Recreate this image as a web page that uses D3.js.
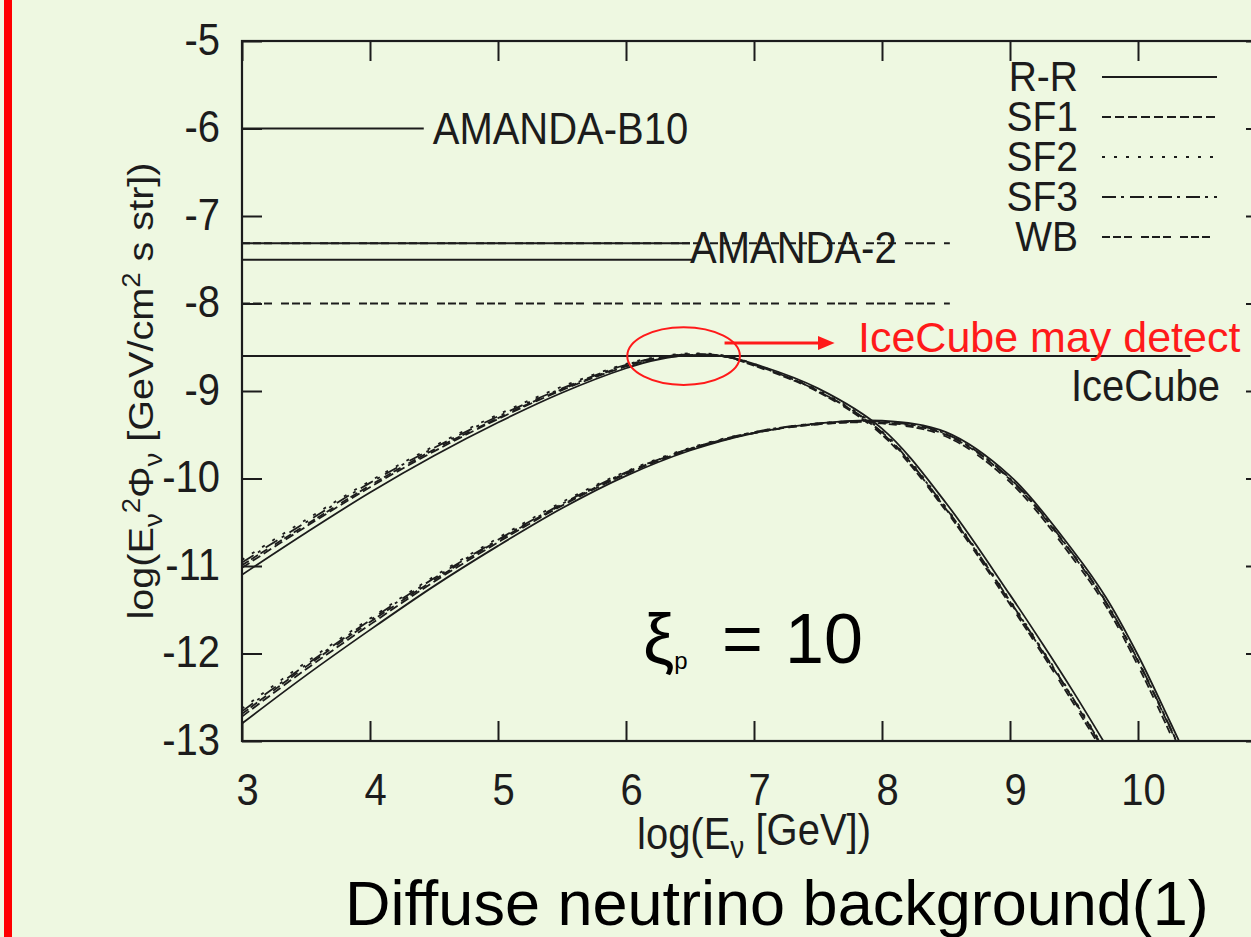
<!DOCTYPE html>
<html lang="en">
<head>
<meta charset="UTF-8">
<title>Diffuse neutrino background</title>
<script src="https://d3js.org/d3.v7.min.js"></script>
<style>
  html, body { margin: 0; padding: 0; background: #eef8e1; }
  svg { display: block; font-family: "Liberation Sans", Arial, sans-serif; }
</style>
</head>
<body>
<svg id="chart" width="1251" height="937"></svg>
<script>
// ---- data ----
const xTicks = [3, 4, 5, 6, 7, 8, 9, 10, 11];
const yTicks = [-5, -6, -7, -8, -9, -10, -11, -12, -13];
const seriesNames = ["R-R", "SF1", "SF2", "SF3", "WB"];

// upper family (peak ~6.5)
const upperX   = [3, 3.5, 4, 4.5, 5, 5.5, 6, 6.25, 6.5, 6.75, 7, 7.5, 8, 8.5, 9, 9.25, 9.5, 9.75];
const upperRR  = [-11.10, -10.62, -10.16, -9.74, -9.36, -9.02, -8.74, -8.64, -8.59, -8.60, -8.69, -8.97, -9.43, -10.28, -11.33, -11.88, -12.45, -13.05];
const upperSF1 = [-11.02, -10.55, -10.10, -9.69, -9.32, -8.99, -8.72, -8.63, -8.59, -8.60, -8.70, -9.00, -9.48, -10.35, -11.41, -11.97, -12.54, -13.15];
const upperSF2 = [-10.93, -10.47, -10.03, -9.63, -9.27, -8.95, -8.69, -8.61, -8.57, -8.59, -8.69, -8.99, -9.46, -10.33, -11.39, -11.95, -12.52, -13.12];
const upperSF3 = [-10.96, -10.50, -10.05, -9.65, -9.29, -8.97, -8.70, -8.62, -8.58, -8.60, -8.70, -9.00, -9.47, -10.34, -11.40, -11.96, -12.53, -13.13];
const upperWB  = [-10.99, -10.53, -10.08, -9.67, -9.31, -8.98, -8.71, -8.62, -8.58, -8.60, -8.71, -9.01, -9.50, -10.37, -11.44, -12.00, -12.58, -13.18];

// lower family (peak ~8)
const lowerX   = [3, 3.5, 4, 4.5, 5, 5.5, 6, 6.5, 7, 7.5, 8, 8.5, 9, 9.5, 9.75, 10, 10.25, 10.4];
const lowerRR  = [-12.80, -12.25, -11.73, -11.23, -10.77, -10.34, -9.97, -9.68, -9.48, -9.37, -9.34, -9.47, -9.97, -10.84, -11.36, -12.02, -12.78, -13.25];
const lowerSF1 = [-12.72, -12.18, -11.67, -11.18, -10.73, -10.31, -9.95, -9.67, -9.48, -9.38, -9.36, -9.50, -10.01, -10.89, -11.42, -12.09, -12.85, -13.33];
const lowerSF2 = [-12.63, -12.10, -11.60, -11.12, -10.68, -10.27, -9.92, -9.65, -9.47, -9.37, -9.35, -9.49, -10.00, -10.88, -11.41, -12.08, -12.84, -13.32];
const lowerSF3 = [-12.66, -12.13, -11.62, -11.14, -10.70, -10.29, -9.93, -9.66, -9.47, -9.37, -9.35, -9.49, -10.00, -10.88, -11.41, -12.08, -12.84, -13.32];
const lowerWB  = [-12.69, -12.15, -11.64, -11.16, -10.71, -10.30, -9.94, -9.66, -9.48, -9.38, -9.37, -9.52, -10.04, -10.93, -11.46, -12.14, -12.91, -13.40];

// experimental limits: level and where the line stops
const limitY    = [-6, -7.31, -7.31, -7.5, -8.0, -8.6];
const limitXEnd = [4.42, 6.5, 8.53, 6.52, 8.53, 10.41];

// ---- drawing ----
const svg = d3.select("#chart");
const W = 1251, H = 937;
const stretch = 1.1;   // the plot image is a little taller than its fonts
const ink = "#1c1c1c";

svg.append("rect").attr("width", W).attr("height", H).attr("fill", "#eef8e1");
svg.append("rect").attr("x", 4).attr("y", 0).attr("width", 8).attr("height", H).attr("fill", "#ff0000");

const x = d3.scaleLinear().domain([3, 11]).range([242, 1266]);
const y = d3.scaleLinear().domain([-13, -5]).range([741, 41]);

const dashes = {
  "R-R": null,
  "SF1": "9,4",
  "SF2": "3,9",
  "SF3": "14,5,3,6",
  "WB": "8,3,8,3,8,9"
};

svg.append("defs").append("clipPath").attr("id", "plotclip")
  .append("rect")
  .attr("x", x(3)).attr("y", y(-5))
  .attr("width", x(11) - x(3)).attr("height", y(-13) - y(-5));

function stext(parent, px, py, str, size, anchor) {
  return parent.append("text")
    .attr("transform", "translate(" + px + "," + py + ") scale(1," + stretch + ")")
    .attr("font-size", size)
    .attr("text-anchor", anchor || "start")
    .attr("fill", ink)
    .text(str);
}

const plot = svg.append("g").attr("clip-path", "url(#plotclip)");

// limit lines
const limitStyle = [null, null, dashes.WB, null, dashes.WB, null];
limitY.forEach((ly, i) => {
  plot.append("line")
    .attr("x1", x(3)).attr("x2", x(limitXEnd[i]))
    .attr("y1", y(ly)).attr("y2", y(ly))
    .attr("stroke", ink).attr("stroke-width", 2)
    .attr("stroke-dasharray", limitStyle[i]);
});

// model curves
const line = d3.line()
  .x(d => x(d[0])).y(d => y(d[1]))
  .curve(d3.curveCatmullRom.alpha(0.5));

const families = [
  { xs: upperX, vals: [upperRR, upperSF1, upperSF2, upperSF3, upperWB] },
  { xs: lowerX, vals: [lowerRR, lowerSF1, lowerSF2, lowerSF3, lowerWB] }
];
families.forEach(f => {
  f.vals.forEach((v, i) => {
    plot.append("path")
      .datum(f.xs.map((xx, j) => [xx, v[j]]))
      .attr("d", line)
      .attr("fill", "none")
      .attr("stroke", ink)
      .attr("stroke-width", 1.8)
      .attr("stroke-dasharray", dashes[seriesNames[i]]);
  });
});

// axes (ticks inside, mirrored)
const fmt = d => String(d);
const axB = svg.append("g").attr("transform", "translate(0," + y(-13) + ")")
  .call(d3.axisBottom(x).tickValues(xTicks).tickSize(-20).tickSizeOuter(0).tickFormat(fmt));
const axT = svg.append("g").attr("transform", "translate(0," + y(-5) + ")")
  .call(d3.axisTop(x).tickValues(xTicks).tickSize(-20).tickSizeOuter(0).tickFormat(""));
const axL = svg.append("g").attr("transform", "translate(" + x(3) + ",0)")
  .call(d3.axisLeft(y).tickValues(yTicks).tickSize(-20).tickSizeOuter(0).tickFormat(fmt));
const axR = svg.append("g").attr("transform", "translate(" + x(11) + ",0)")
  .call(d3.axisRight(y).tickValues(yTicks).tickSize(-20).tickSizeOuter(0).tickFormat(""));

[axB, axT, axL, axR].forEach(a => {
  a.select(".domain").remove();
  a.selectAll("line").attr("stroke", ink).attr("stroke-width", 2);
});
axB.selectAll("text")
  .attr("font-size", 40).attr("fill", ink)
  .attr("font-family", "Liberation Sans, Arial, sans-serif")
  .attr("x", 5).attr("y", 64 / stretch).attr("dy", null)
  .attr("transform", "scale(1," + stretch + ")");
axL.selectAll("text")
  .attr("font-size", 40).attr("fill", ink)
  .attr("font-family", "Liberation Sans, Arial, sans-serif")
  .attr("x", -22).attr("y", 0).attr("dy", null)
  .attr("transform", "translate(0,13) scale(1," + stretch + ")");

svg.append("rect")
  .attr("x", x(3)).attr("y", y(-5))
  .attr("width", x(11) - x(3)).attr("height", y(-13) - y(-5))
  .attr("fill", "none").attr("stroke", ink).attr("stroke-width", 2.2);

// limit labels
stext(svg, x(4.49), y(-6) + 15, "AMANDA-B10", 40);
stext(svg, x(6.5), y(-7.5) + 3, "AMANDA-2", 40);
stext(svg, x(10.64), y(-8.6) + 45, "IceCube", 40, "end");

// legend
const legend = svg.append("g");
seriesNames.forEach((name, i) => {
  const cy = 77 + i * 40;
  stext(legend, 1078, cy + 14, name, 39, "end");
  legend.append("line")
    .attr("x1", 1102).attr("x2", 1217)
    .attr("y1", cy).attr("y2", cy)
    .attr("stroke", ink).attr("stroke-width", 2)
    .attr("stroke-dasharray", dashes[name]);
});

// axis titles
const xl = svg.append("text")
  .attr("transform", "translate(" + 754 + "," + 849 + ") scale(1," + stretch + ")")
  .attr("font-size", 40).attr("text-anchor", "middle").attr("fill", ink);
xl.append("tspan").text("log(E");
xl.append("tspan").attr("font-size", 28).attr("dy", "0.3em").text("ν");
xl.append("tspan").attr("dy", "-0.3em").text(" [GeV])");

const yl = svg.append("text")
  .attr("transform", "translate(153,391) scale(1," + stretch + ") rotate(-90)")
  .attr("font-size", 36).attr("text-anchor", "middle").attr("fill", ink);
yl.append("tspan").text("log(E");
yl.append("tspan").attr("font-size", 25).attr("dy", 9).text("ν");
yl.append("tspan").attr("font-size", 25).attr("dy", -22).text("2");
yl.append("tspan").attr("dy", 13).text("Φ");
yl.append("tspan").attr("font-size", 25).attr("dy", 9).text("ν");
yl.append("tspan").attr("dy", -9).text(" [GeV/cm");
yl.append("tspan").attr("font-size", 25).attr("dy", -13).text("2");
yl.append("tspan").attr("dy", 13).text(" s str])");

// annotations laid over the slide
const red = "#ff1a1a";
svg.append("ellipse")
  .attr("cx", x(6.45)).attr("cy", y(-8.6))
  .attr("rx", x(6.89) - x(6.45)).attr("ry", y(-8.93) - y(-8.6))
  .attr("fill", "none").attr("stroke", red).attr("stroke-width", 2);
svg.append("line")
  .attr("x1", x(6.77)).attr("x2", x(7.52))
  .attr("y1", y(-8.45)).attr("y2", y(-8.45))
  .attr("stroke", red).attr("stroke-width", 3);
svg.append("path")
  .attr("d", "M" + x(7.5) + "," + (y(-8.45) - 7) + " L" + x(7.63) + "," + y(-8.45) + " L" + x(7.5) + "," + (y(-8.45) + 7) + "Z")
  .attr("fill", red);
svg.append("text")
  .attr("x", 858).attr("y", 352)
  .attr("font-size", 43).attr("fill", red)
  .text("IceCube may detect");

const xi = svg.append("text").attr("x", 643).attr("y", 663).attr("font-size", 70).attr("fill", "#000");
xi.append("tspan").text("ξ");
xi.append("tspan").attr("font-size", 24).attr("dy", 6).text("p");
xi.append("tspan").attr("dy", -6).attr("x", 722).text("=");
xi.append("tspan").attr("x", 785).text("10");

svg.append("text")
  .attr("x", 345).attr("y", 925)
  .attr("font-size", 63).attr("fill", "#000")
  .text("Diffuse neutrino background(1)");
</script>
</body>
</html>
